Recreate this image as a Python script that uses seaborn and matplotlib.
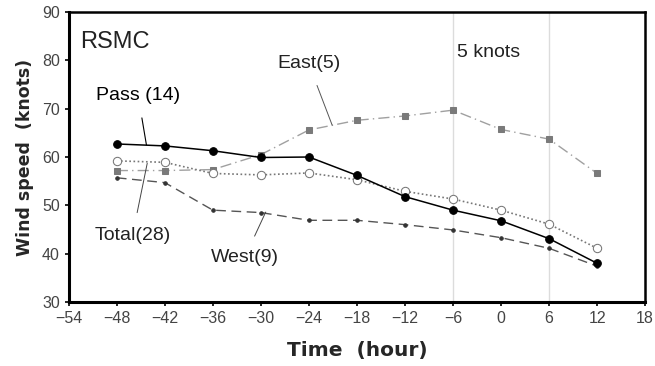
"""
Wind speed change around passage time, RSMC best track.
"""
import matplotlib
matplotlib.use('Agg')
import matplotlib.pyplot as plt
import pandas as pd
import seaborn as sns

# Hours relative to passage
HOURS = [-48, -42, -36, -30, -24, -18, -12, -6, 0, 6, 12]

# Mean wind speed (knots) per group
PASS = [62.7, 62.3, 61.3, 59.9, 60.0, 56.2, 51.8, 49.0, 46.8, 43.1, 38.0]
TOTAL = [59.2, 58.9, 56.6, 56.3, 56.7, 55.3, 52.9, 51.3, 49.0, 46.1, 41.1]
EAST = [57.2, 57.2, 57.4, 60.5, 65.6, 67.6, 68.5, 69.7, 65.7, 63.7, 56.6]
WEST = [55.7, 54.7, 49.0, 48.5, 46.9, 46.9, 46.0, 44.9, 43.3, 41.1, 37.4]

XTICKS = list(range(-54, 19, 6))
YTICKS = list(range(30, 91, 10))

DF = pd.DataFrame({'hour': HOURS, 'Pass': PASS, 'Total': TOTAL,
                   'East': EAST, 'West': WEST})

sns.set_style('ticks')
plt.rcParams['font.family'] = ['Liberation Sans', 'DejaVu Sans']

fig = plt.figure(figsize=(6.55, 3.66), dpi=100)
ax = fig.add_axes([0.105, 0.175, 0.88, 0.792])

# vertical reference lines
for xv in (-6, 6):
    ax.axvline(xv, color='#dcdcdc', lw=1.0, zorder=0)

sns.lineplot(data=DF, x='hour', y='East', ax=ax, color='#a0a0a0', lw=1.0,
             linestyle=(0, (8, 3, 1, 3)), marker='s', markersize=5,
             markerfacecolor='#7a7a7a', markeredgecolor='#7a7a7a')
sns.lineplot(data=DF, x='hour', y='West', ax=ax, color='#555555', lw=1.0,
             linestyle=(0, (7, 4)), marker='o', markersize=2.5,
             markerfacecolor='#333333', markeredgecolor='#333333')
sns.lineplot(data=DF, x='hour', y='Total', ax=ax, color='#777777', lw=1.2,
             linestyle=(0, (1, 1.5)), marker='o', markersize=6,
             markerfacecolor='white', markeredgecolor='#777777')
sns.lineplot(data=DF, x='hour', y='Pass', ax=ax, color='black', lw=1.1,
             marker='o', markersize=5.5, markerfacecolor='black',
             markeredgecolor='black')

ax.set_xlim(-54, 18)
ax.set_ylim(30, 90)
ax.set_xticks(XTICKS)
ax.set_yticks(YTICKS)
ax.set_xticklabels([str(t).replace('-', '\u2212') for t in XTICKS])
ax.tick_params(labelsize=11.5, colors='#444444', length=3, width=1.2)
ax.tick_params(axis='both', which='both', color='black')

for side in ('left', 'bottom'):
    ax.spines[side].set_linewidth(2.2)
for side in ('top', 'right'):
    ax.spines[side].set_linewidth(1.8)
for sp in ax.spines.values():
    sp.set_color('black')
    sp.set_visible(True)

ax.set_xlabel('Time  (hour)', fontsize=14.5, fontweight='bold',
              family='DejaVu Sans', labelpad=11)
ax.set_ylabel('Wind speed  (knots)', fontsize=12.5, fontweight='bold',
              family='DejaVu Sans', labelpad=6)

# annotations
ax.text(-52.6, 83.8, 'RSMC', fontsize=17, va='center', color='#222222')
ax.text(-5.5, 81.7, '5 knots', fontsize=14, va='center', color='#222222')
ax.annotate('Pass (14)', xy=(-44.3, 62.5), xytext=(-50.6, 72.8),
            fontsize=14, va='center', color='black',
            arrowprops=dict(arrowstyle='-', color='black', lw=0.8,
                            shrinkA=8, shrinkB=0))
ax.annotate('East(5)', xy=(-21.1, 66.6), xytext=(-28.0, 79.4),
            fontsize=14, va='center', color='#222222',
            arrowprops=dict(arrowstyle='-', color='#555555', lw=0.7,
                            shrinkA=8, shrinkB=0))
ax.annotate('Total(28)', xy=(-44.2, 58.7), xytext=(-50.8, 43.8),
            fontsize=14, va='center', color='#222222',
            arrowprops=dict(arrowstyle='-', color='#444444', lw=0.7,
                            shrinkA=8, shrinkB=0))
ax.annotate('West(9)', xy=(-29.4, 48.6), xytext=(-36.3, 39.1),
            fontsize=14, va='center', color='#222222',
            arrowprops=dict(arrowstyle='-', color='#444444', lw=0.7,
                            shrinkA=8, shrinkB=0))

fig.savefig('out.png', dpi=100)
